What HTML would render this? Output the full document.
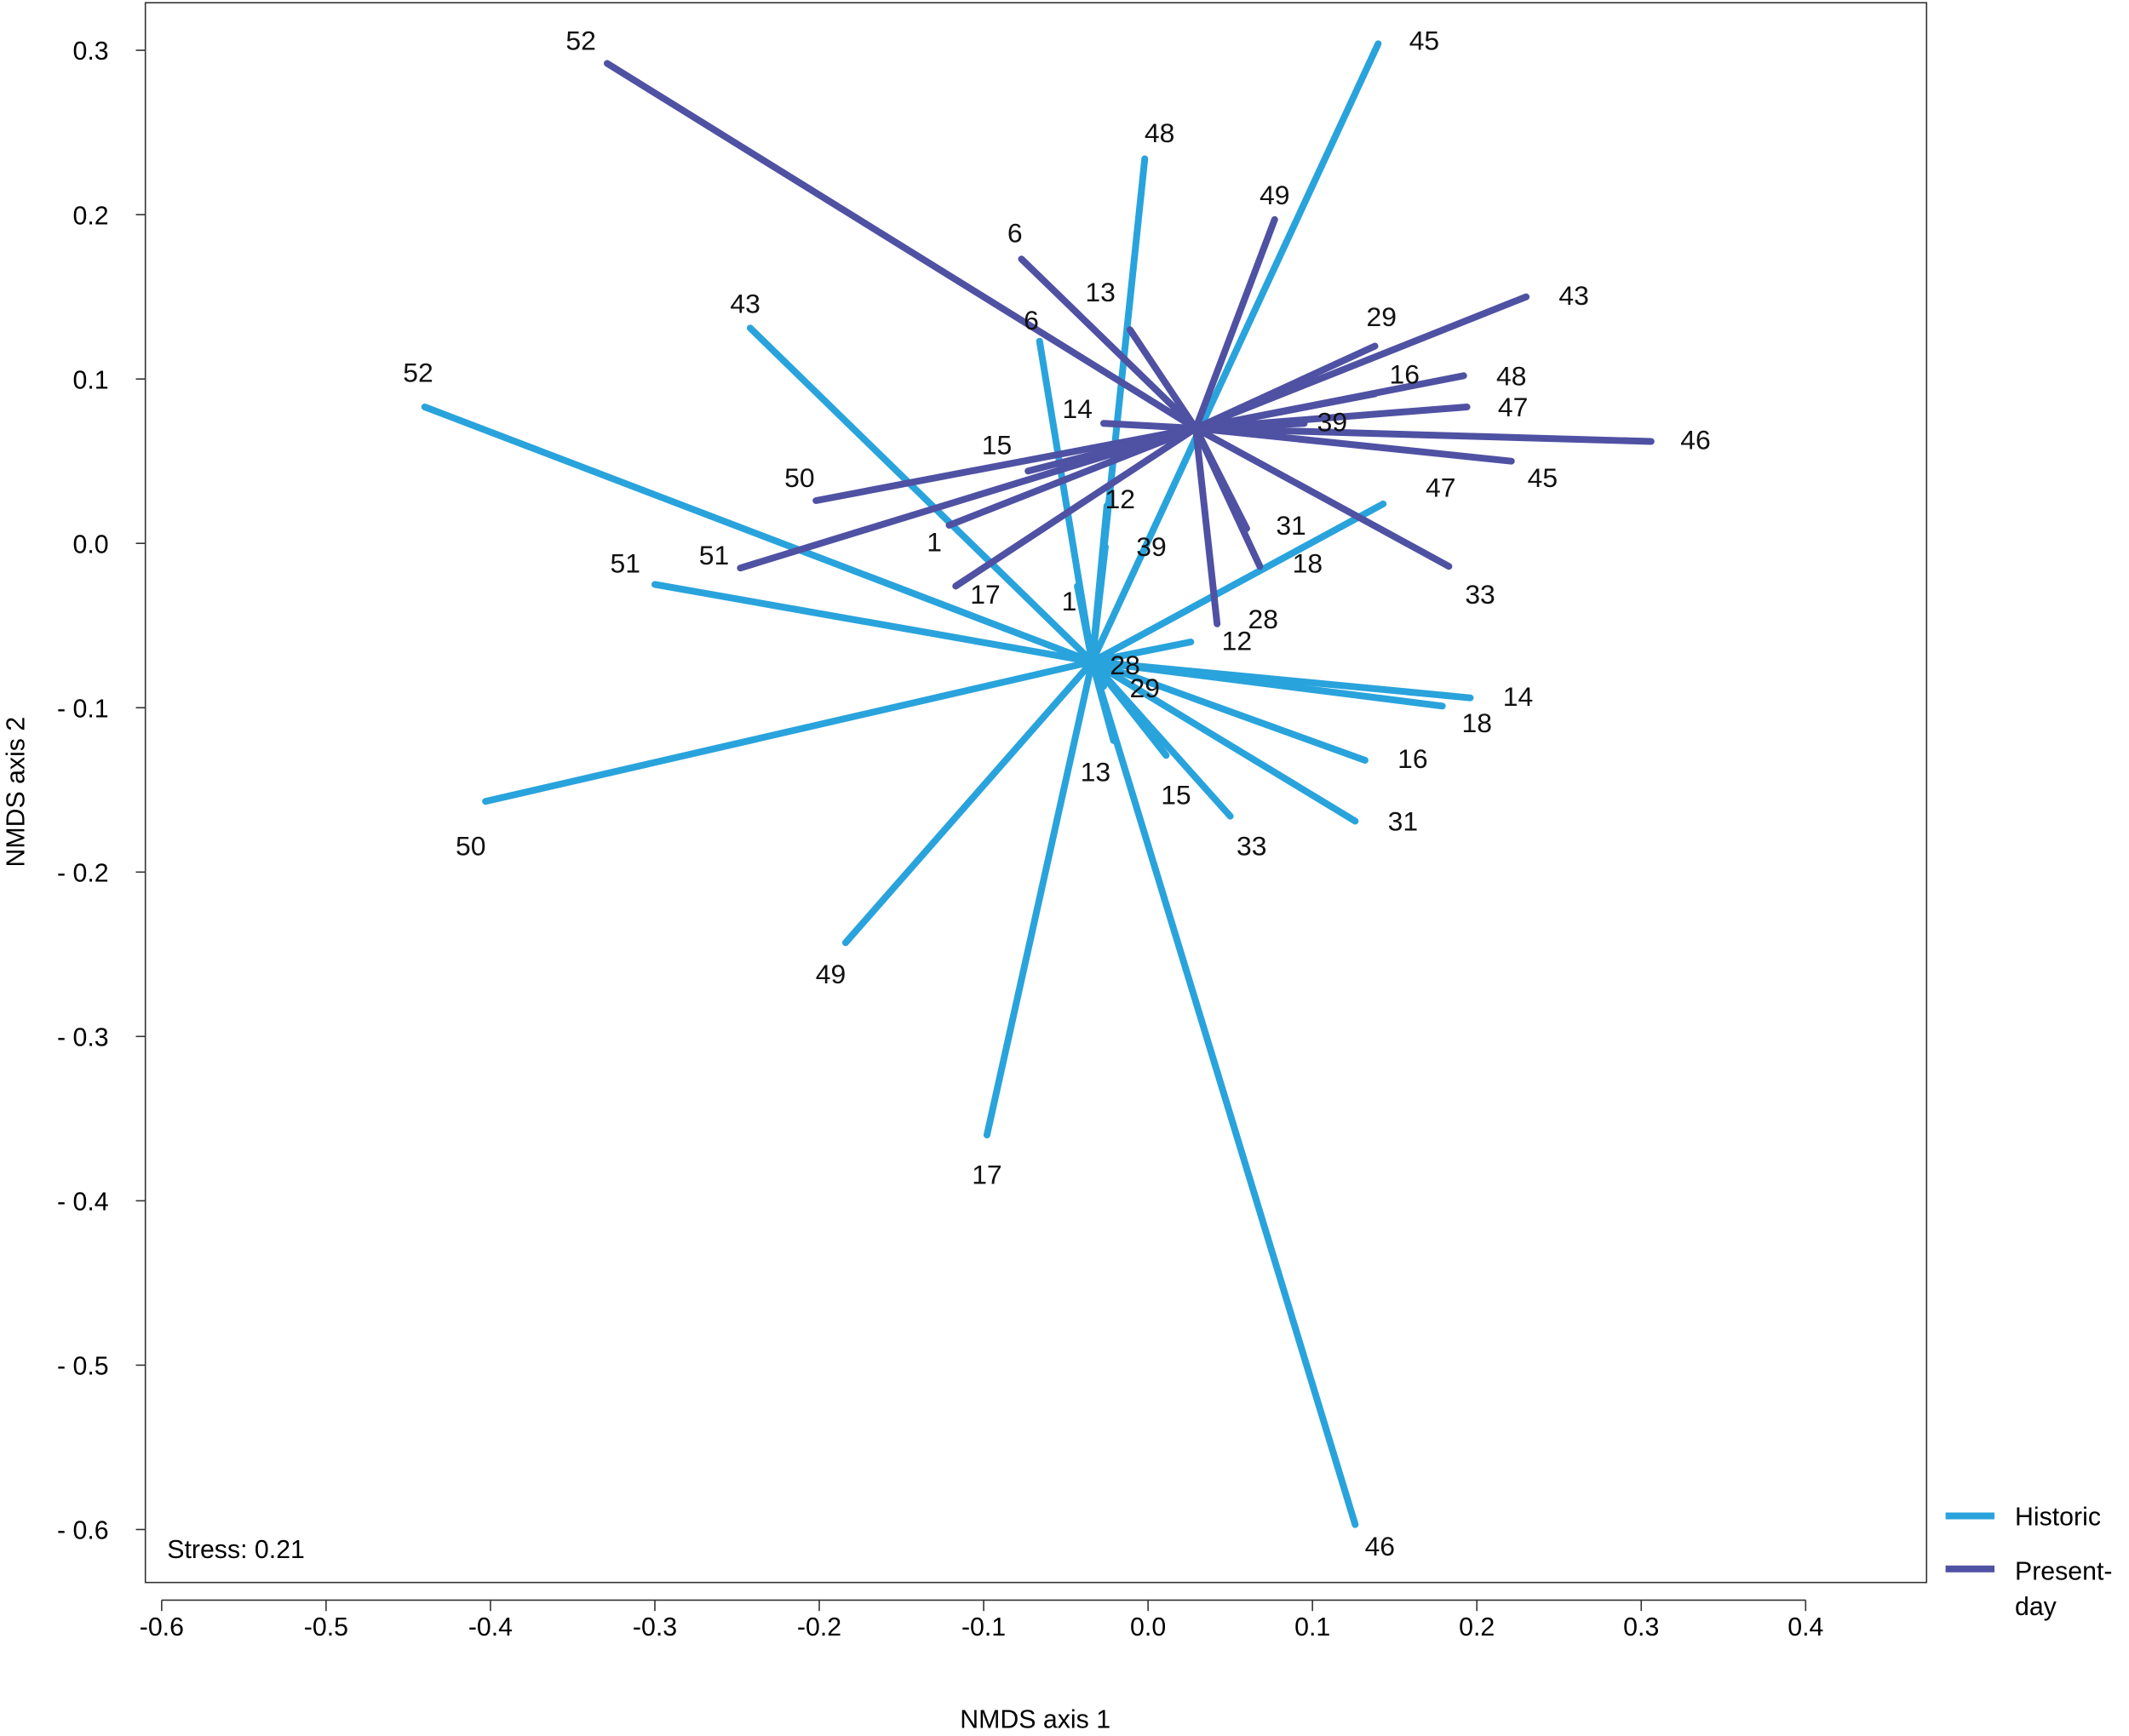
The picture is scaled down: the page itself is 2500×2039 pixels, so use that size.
<!DOCTYPE html>
<html><head><meta charset="utf-8"><style>
html,body{margin:0;padding:0;background:#fff;}
svg{display:block;font-family:"Liberation Sans",Arial,sans-serif;}
</style></head><body>
<svg id="chart" width="2500" height="2039" viewBox="0 0 1567 1278" xmlns="http://www.w3.org/2000/svg">
<rect x="0" y="0" width="1567" height="1278" fill="#fff"/>
<rect x="107" y="2" width="1311" height="1163" fill="none" stroke="#333" stroke-width="1"/>
<g id="axes"></g>
<g id="hist"></g>
<g id="pres"></g>
<g id="labels"></g>
<text x="123" y="1147" font-size="19">Stress: 0.21</text>
<text x="762" y="1272" font-size="19" text-anchor="middle">NMDS axis 1</text>
<text transform="translate(18,583) rotate(-90)" font-size="19" text-anchor="middle">NMDS axis 2</text>
<g>
<line x1="1432" y1="1116" x2="1468" y2="1116" stroke="#29a3dc" stroke-width="5"/>
<text x="1483" y="1123" font-size="19">Historic</text>
<line x1="1432" y1="1155" x2="1468" y2="1155" stroke="#4f51a3" stroke-width="5"/>
<text x="1483" y="1163" font-size="19">Present-</text>
<text x="1483" y="1189" font-size="19">day</text>
</g>
</svg>
<script>
const xTicks=[-0.6,-0.5,-0.4,-0.3,-0.2,-0.1,0.0,0.1,0.2,0.3,0.4];
const xTickLabels=["-0.6","-0.5","-0.4","-0.3","-0.2","-0.1","0.0","0.1","0.2","0.3","0.4"];
const yTicks=[0.3,0.2,0.1,0.0,-0.1,-0.2,-0.3,-0.4,-0.5,-0.6];
const yTickLabels=["0.3","0.2","0.1","0.0","- 0.1","- 0.2","- 0.3","- 0.4","- 0.5","- 0.6"];
const histCentroid=[-0.034,-0.072];
const presCentroid=[0.029,0.070];
const histIds=["45","48","43","6","52","47","51","50","49","17","46","14","18","16","31","33","15","13","29","28","1","39","12"];
const histX=[0.140,-0.002,-0.242,-0.066,-0.440,0.143,-0.300,-0.403,-0.184,-0.098,0.126,0.196,0.179,0.132,0.126,0.050,0.011,-0.021,-0.027,0.026,-0.043,-0.026,-0.025];
const histY=[0.304,0.234,0.131,0.123,0.083,0.024,-0.025,-0.157,-0.243,-0.360,-0.597,-0.094,-0.099,-0.132,-0.169,-0.166,-0.129,-0.120,-0.087,-0.060,-0.026,-0.002,0.023];
const histLabX=[0.168,0.007,-0.245,-0.071,-0.444,0.178,-0.318,-0.412,-0.193,-0.098,0.141,0.225,0.200,0.161,0.155,0.063,0.017,-0.032,-0.002,-0.014,-0.048,0.002,-0.017];
const histLabY=[0.306,0.250,0.146,0.136,0.104,0.034,-0.012,-0.184,-0.262,-0.384,-0.610,-0.093,-0.109,-0.131,-0.169,-0.184,-0.153,-0.139,-0.088,-0.074,-0.035,-0.002,0.027];
const presIds=["52","6","13","49","43","29","16","48","47","39","46","45","33","31","18","28","12","17","51","1","50","15","14"];
const presX=[-0.329,-0.077,-0.011,0.077,0.230,0.138,0.138,0.192,0.194,0.095,0.306,0.221,0.183,0.060,0.068,0.055,0.042,-0.117,-0.248,-0.121,-0.202,-0.073,-0.027];
const presY=[0.292,0.173,0.130,0.197,0.150,0.120,0.091,0.102,0.083,0.073,0.062,0.050,-0.014,0.009,-0.014,0.017,-0.049,-0.026,-0.015,0.011,0.026,0.044,0.073];
const presLabX=[-0.345,-0.081,-0.029,0.077,0.259,0.142,0.156,0.221,0.222,0.112,0.333,0.240,0.202,0.087,0.097,0.070,0.054,-0.099,-0.264,-0.130,-0.212,-0.092,-0.043];
const presLabY=[0.306,0.189,0.153,0.212,0.151,0.138,0.103,0.102,0.083,0.074,0.063,0.040,-0.031,0.011,-0.012,-0.046,-0.059,-0.031,-0.007,0.001,0.040,0.060,0.082];

const NS="http://www.w3.org/2000/svg";
function sx(v){return 845+v*1210;}
function sy(v){return 400-v*1210;}
function mk(tag,attrs,parent){const e=document.createElementNS(NS,tag);for(const k in attrs)e.setAttribute(k,attrs[k]);parent.appendChild(e);return e;}
const axes=document.getElementById('axes');
const xl=mk('line',{x1:sx(xTicks[0]),x2:sx(xTicks[xTicks.length-1]),y1:1178,y2:1178,stroke:'#333','stroke-width':1},axes);


xTicks.forEach((v,i)=>{
  const t=mk('line',{x1:sx(v),x2:sx(v),y1:1178,y2:1186,stroke:'#333','stroke-width':1},axes);
  
  
  const l=mk('text',{x:sx(v),y:1204,'font-size':19,'text-anchor':'middle'},axes);
  l.textContent=xTickLabels[i];
  
  
});
yTicks.forEach((v,i)=>{
  const t=mk('line',{x1:100,x2:107,y1:sy(v),y2:sy(v),stroke:'#333','stroke-width':1},axes);
  
  
  const l=mk('text',{x:80,y:sy(v)+7,'font-size':19,'text-anchor':'end'},axes);
  l.textContent=yTickLabels[i];
  
  
});
function spider(gid,c,xs,ys,color,nm){
  const g=document.getElementById(gid);
  xs.forEach((x,i)=>{
    const ln=mk('line',{x1:sx(c[0]),y1:sy(c[1]),x2:sx(x),y2:sy(ys[i]),stroke:color,'stroke-width':5,'stroke-linecap':'round'},g);
    
    
  });
}
spider('hist',histCentroid,histX,histY,'#29a3dc','historic-spoke');
spider('pres',presCentroid,presX,presY,'#4f51a3','present-spoke');
const lg=document.getElementById('labels');
function labels(ids,lx,ly,nm){
  ids.forEach((id,i)=>{
    const t=mk('text',{x:sx(lx[i]),y:sy(ly[i])+7,'font-size':20,'text-anchor':'middle',fill:'#111'},lg);
    t.textContent=id;
    
    
  });
}
labels(histIds,histLabX,histLabY,'historic-site-label');
labels(presIds,presLabX,presLabY,'present-site-label');
</script>
</body></html>
